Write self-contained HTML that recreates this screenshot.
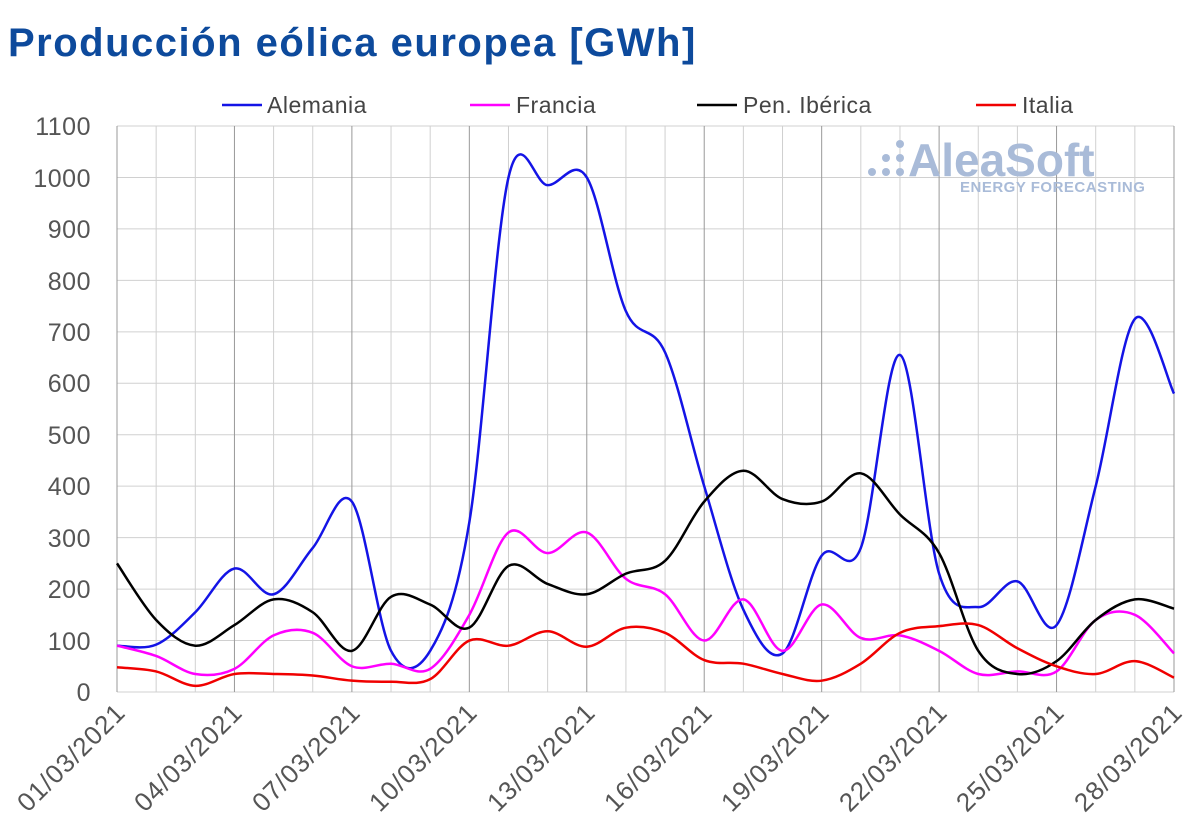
<!DOCTYPE html>
<html><head><meta charset="utf-8"><style>
body{margin:0;background:#fff;width:1200px;height:831px;overflow:hidden}
svg{display:block}
text{font-family:"Liberation Sans",sans-serif}
</style></head><body>
<svg id="s" width="1200" height="831" xmlns="http://www.w3.org/2000/svg">
<text x="8" y="56" font-size="40" font-weight="bold" fill="#0d4a9c" letter-spacing="1.5">Producción eólica europea [GWh]</text>
<g id="grid"></g>
<g font-size="25" fill="#555" text-anchor="end" letter-spacing="0.5">
<text x="91" y="701">0</text><text x="91" y="650">100</text><text x="91" y="598">200</text><text x="91" y="547">300</text><text x="91" y="495">400</text><text x="91" y="444">500</text><text x="91" y="392">600</text><text x="91" y="341">700</text><text x="91" y="290">800</text><text x="91" y="238">900</text><text x="91" y="187">1000</text><text x="91" y="135">1100</text>
</g>
<g font-size="26" fill="#555" text-anchor="end" letter-spacing="1">
<text transform="translate(127,714) rotate(-45)">01/03/2021</text>
<text transform="translate(244,714) rotate(-45)">04/03/2021</text>
<text transform="translate(362,714) rotate(-45)">07/03/2021</text>
<text transform="translate(479,714) rotate(-45)">10/03/2021</text>
<text transform="translate(597,714) rotate(-45)">13/03/2021</text>
<text transform="translate(714,714) rotate(-45)">16/03/2021</text>
<text transform="translate(831,714) rotate(-45)">19/03/2021</text>
<text transform="translate(949,714) rotate(-45)">22/03/2021</text>
<text transform="translate(1066,714) rotate(-45)">25/03/2021</text>
<text transform="translate(1184,714) rotate(-45)">28/03/2021</text>
</g>
<g font-size="23" fill="#444" letter-spacing="0.5">
<line x1="222" y1="105" x2="262" y2="105" stroke="#1414e6" stroke-width="2.5"/><text x="267" y="113">Alemania</text>
<line x1="470" y1="105" x2="510" y2="105" stroke="#ff00ff" stroke-width="2.5"/><text x="516" y="113">Francia</text>
<line x1="697" y1="105" x2="737" y2="105" stroke="#000" stroke-width="2.5"/><text x="743" y="113">Pen. Ibérica</text>
<line x1="976" y1="105" x2="1016" y2="105" stroke="#f00000" stroke-width="2.5"/><text x="1022" y="113">Italia</text>
</g>
<text x="908" y="176" font-size="46" font-weight="bold" fill="#a9bbd8">AleaSoft</text>
<text x="960" y="192" font-size="15" font-weight="bold" fill="#a9bbd8" letter-spacing="0.5">ENERGY FORECASTING</text>
<g fill="#a9bbd8"><circle cx="872" cy="172" r="4"/><circle cx="886" cy="172" r="4"/><circle cx="900" cy="172" r="4"/><circle cx="886" cy="158" r="4"/><circle cx="900" cy="158" r="4"/><circle cx="900" cy="144" r="4"/></g>
<g id="lines"></g>
</svg>
<script>
var x0=117,dx=(1174-117)/27,y0=692,k=(692-126)/1100;
var g='';
for(var i=0;i<=11;i++){var y=y0-i*100*k;g+='<line x1="'+x0+'" x2="1174" y1="'+y+'" y2="'+y+'" stroke="#d0d0d0" stroke-width="1"/>';}
for(var d=0;d<=27;d++){var x=x0+d*dx;g+='<line x1="'+x+'" x2="'+x+'" y1="126" y2="692" stroke="'+(d%3==0?'#999':'#d0d0d0')+'" stroke-width="1"/>';}
document.getElementById('grid').innerHTML=g;
var S={
'#1414e6':[90,92,155,240,190,280,370,80,80,330,1000,985,1000,740,660,400,160,75,265,280,655,230,165,215,130,400,725,580],
'#ff00ff':[90,70,35,45,110,115,50,55,45,150,310,270,310,220,190,100,180,80,170,105,110,80,35,40,40,140,150,75],
'#000000':[250,140,90,130,180,155,80,185,170,125,245,210,190,230,255,370,430,375,370,425,345,270,80,35,60,140,180,162],
'#f00000':[48,40,12,35,35,32,22,20,25,100,90,118,88,125,115,62,55,35,22,55,115,128,130,85,50,35,60,28]};
var h='';
for(var c in S){var v=S[c],p=v.map(function(a,i){return [x0+i*dx,y0-a*k]});
var s='M'+p[0][0]+','+p[0][1];
for(var i=0;i<p.length-1;i++){var a=p[Math.max(0,i-1)],b=p[i],e=p[i+1],f=p[Math.min(p.length-1,i+2)];
s+=' C'+(b[0]+(e[0]-a[0])/6)+','+(b[1]+(e[1]-a[1])/6)+' '+(e[0]-(f[0]-b[0])/6)+','+(e[1]-(f[1]-b[1])/6)+' '+e[0]+','+e[1];}
h+='<path d="'+s+'" fill="none" stroke="'+c+'" stroke-width="2.5"/>';}
document.getElementById('lines').innerHTML=h;
</script>
</body></html>
